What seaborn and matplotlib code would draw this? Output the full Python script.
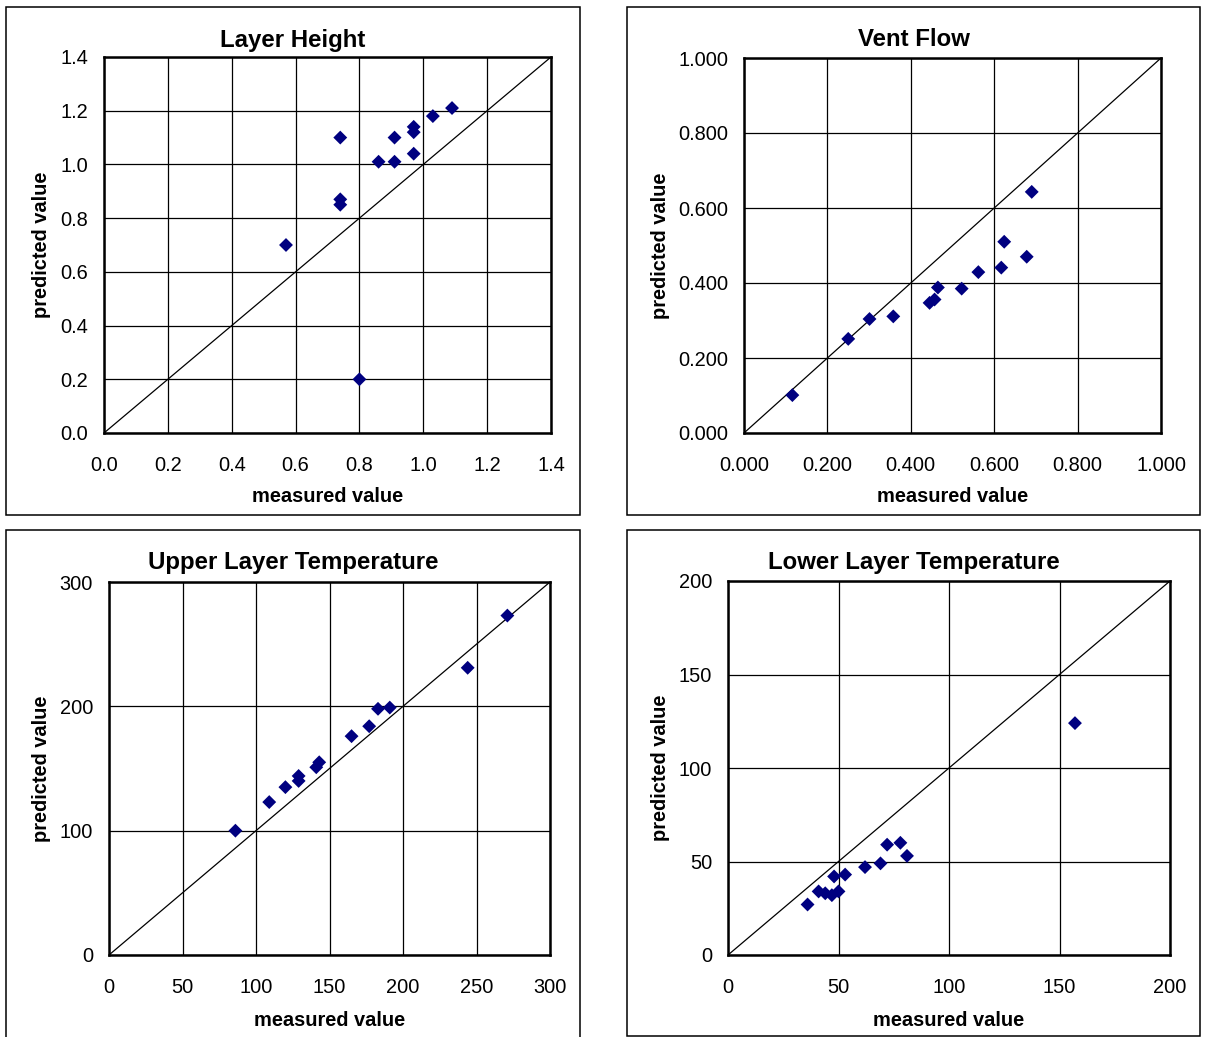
import matplotlib
matplotlib.use("Agg")
import matplotlib.pyplot as plt
import matplotlib.patches as patches
from matplotlib.ticker import FormatStrFormatter, MultipleLocator
import pandas as pd
import seaborn as sns

# ── data ───────────────────────────────────────────────────────────
height_measured  = [0.57, 0.74, 0.74, 0.74, 0.80, 0.86, 0.91, 0.91, 0.97, 0.97, 0.97, 1.03, 1.09]
height_predicted = [0.70, 1.10, 0.87, 0.85, 0.20, 1.01, 1.01, 1.10, 1.14, 1.12, 1.04, 1.18, 1.21]

vent_measured  = [0.116, 0.250, 0.301, 0.358, 0.445, 0.457, 0.465, 0.522, 0.562, 0.617, 0.624, 0.678, 0.690]
vent_predicted = [0.101, 0.251, 0.304, 0.311, 0.347, 0.356, 0.388, 0.385, 0.429, 0.441, 0.510, 0.470, 0.643]

upper_measured  = [86, 109, 120, 129, 129, 141, 143, 165, 177, 183, 191, 244, 271]
upper_predicted = [100, 123, 135, 144, 140, 151, 155, 176, 184, 198, 199, 231, 273]

lower_measured  = [36, 41, 44, 47, 50, 48, 53, 62, 69, 72, 78, 81, 157]
lower_predicted = [27, 34, 33, 32, 34, 42, 43, 47, 49, 59, 60, 53, 124]

titles      = ["Layer Height", "Vent Flow", "Upper Layer Temperature", "Lower Layer Temperature"]
axis_max    = [1.4, 1.0, 300, 200]
x_step      = [0.2, 0.2, 50, 50]
y_step      = [0.2, 0.2, 100, 50]
tick_format = ["%.1f", "%.3f", "%d", "%d"]

# ── layout (pixels of the 1207 x 1037 picture) ─────────────────────
W, H = 1207, 1037
BOXES   = [(6, 7, 580, 515), (627, 7, 1200, 515), (6, 530, 580, 1045), (627, 530, 1200, 1036)]
PLOTS   = [(104, 57, 551, 433), (744, 58, 1161, 433), (109, 582, 550, 955), (728, 581, 1170, 955)]
TITLE_Y = [40, 39, 563, 562]
XLAB_Y  = [497, 497, 1021, 1020]
YLAB_X  = [42, 661, 42, 661]

sns.set_style("white")
plt.rcParams["font.family"] = ["Liberation Sans", "DejaVu Sans"]
plt.rcParams["text.color"] = "black"
plt.rcParams["axes.labelcolor"] = "black"

fig = plt.figure(figsize=(W / 100, H / 100), dpi=100)

panels = [
    (height_measured, height_predicted),
    (vent_measured, vent_predicted),
    (upper_measured, upper_predicted),
    (lower_measured, lower_predicted),
]

for i, (meas, pred) in enumerate(panels):
    bx0, by0, bx1, by1 = BOXES[i]
    fig.patches.append(patches.Rectangle((bx0 / W, 1 - by1 / H), (bx1 - bx0) / W, (by1 - by0) / H,
                                         transform=fig.transFigure, fill=False,
                                         edgecolor="black", linewidth=1.1))

    x0, y0, x1, y1 = PLOTS[i]
    ax = fig.add_axes([x0 / W, 1 - y1 / H, (x1 - x0) / W, (y1 - y0) / H])
    df = pd.DataFrame({"measured": meas, "predicted": pred})

    ax.axline((0, 0), slope=1, color="black", linewidth=0.9, zorder=2)
    sns.scatterplot(data=df, x="measured", y="predicted", ax=ax, marker="D",
                    color="#000080", edgecolor="none", s=50, zorder=3)

    lim = axis_max[i]
    ax.set_xlim(0, lim)
    ax.set_ylim(0, lim)
    ax.xaxis.set_major_locator(MultipleLocator(x_step[i]))
    ax.yaxis.set_major_locator(MultipleLocator(y_step[i]))
    ax.xaxis.set_major_formatter(FormatStrFormatter(tick_format[i]))
    ax.yaxis.set_major_formatter(FormatStrFormatter(tick_format[i]))

    ax.grid(True, color="black", linewidth=0.9)
    ax.set_axisbelow(True)
    for sp in ax.spines.values():
        sp.set_visible(True)
        sp.set_color("black")
        sp.set_linewidth(1.8)

    ax.tick_params(axis="both", direction="out", length=4.5, width=0.9,
                   colors="black", labelcolor="black", labelsize=14.4)
    ax.tick_params(axis="x", pad=12)
    ax.tick_params(axis="y", pad=7)

    ax.set_xlabel("measured value", fontsize=14.4, fontweight="bold", color="black")
    ax.set_ylabel("predicted value", fontsize=14.4, fontweight="bold", color="black")
    ax.xaxis.label.set_va("center")
    ax.yaxis.label.set_va("center")
    ax.xaxis.set_label_coords(((x0 + x1) / 2) / W, 1 - XLAB_Y[i] / H, transform=fig.transFigure)
    ax.yaxis.set_label_coords(YLAB_X[i] / W, 1 - ((y0 + y1) / 2) / H, transform=fig.transFigure)

    fig.text(((bx0 + bx1) / 2) / W, 1 - TITLE_Y[i] / H, titles[i], color="black",
             ha="center", va="center", fontsize=17.3, fontweight="bold")

fig.savefig("out.png", dpi=100)
plt.close(fig)
